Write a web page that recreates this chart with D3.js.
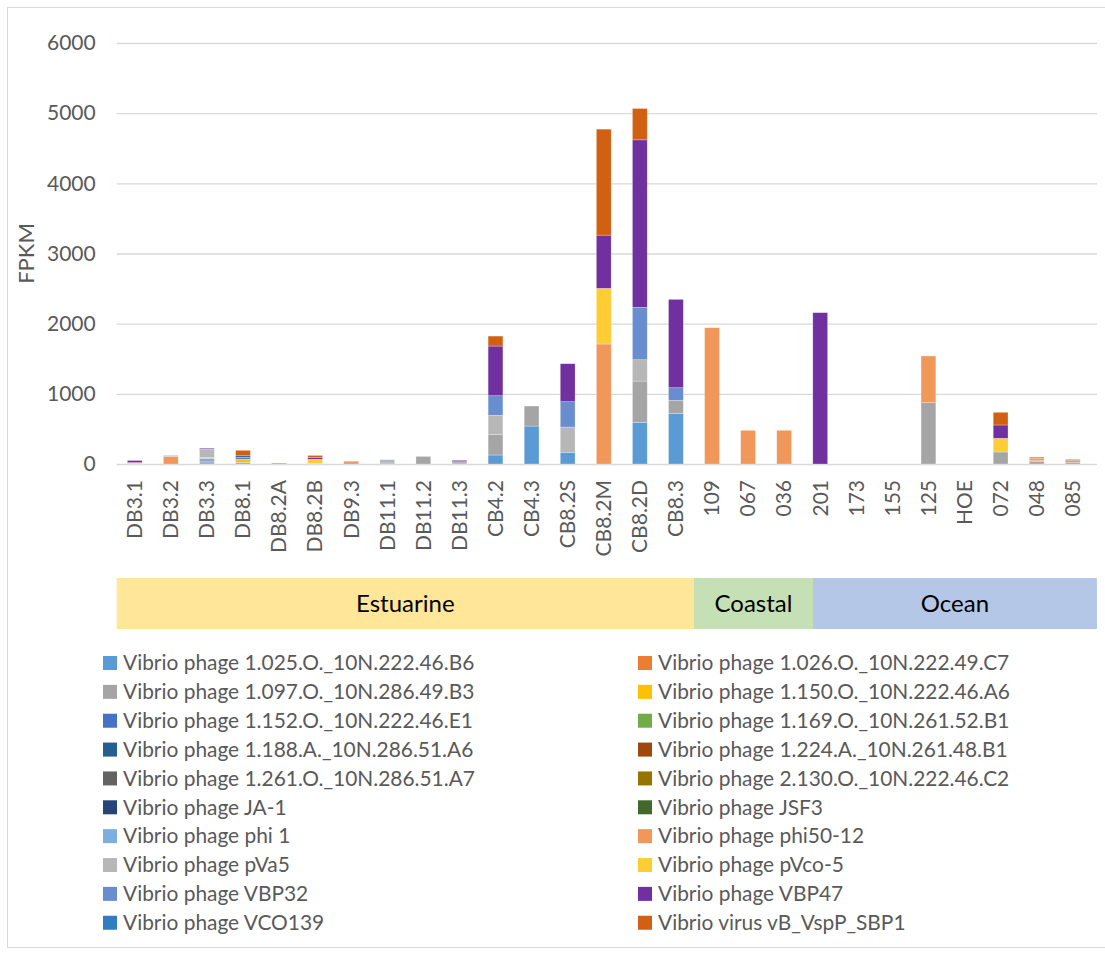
<!DOCTYPE html>
<html>
<head>
<meta charset="utf-8">
<script src="https://cdn.jsdelivr.net/npm/d3@7"></script>
<style>
  body { margin: 0; background: #fff; }
  text { font-family: Lato, "Open Sans", sans-serif; }
</style>
</head>
<body>
<svg id="chart" width="1105" height="953"></svg>
<script>
// Sampling sites along the x axis
const categories = ["DB3.1","DB3.2","DB3.3","DB8.1","DB8.2A","DB8.2B","DB9.3","DB11.1","DB11.2","DB11.3",
  "CB4.2","CB4.3","CB8.2S","CB8.2M","CB8.2D","CB8.3","109","067","036","201","173","155","125","HOE","072","048","085"];

// Phage names (stack order, bottom to top) and their fills
const seriesNames = [
  "Vibrio phage 1.025.O._10N.222.46.B6", "Vibrio phage 1.026.O._10N.222.49.C7",
  "Vibrio phage 1.097.O._10N.286.49.B3", "Vibrio phage 1.150.O._10N.222.46.A6",
  "Vibrio phage 1.152.O._10N.222.46.E1", "Vibrio phage 1.169.O._10N.261.52.B1",
  "Vibrio phage 1.188.A._10N.286.51.A6", "Vibrio phage 1.224.A._10N.261.48.B1",
  "Vibrio phage 1.261.O._10N.286.51.A7", "Vibrio phage 2.130.O._10N.222.46.C2",
  "Vibrio phage JA-1", "Vibrio phage JSF3",
  "Vibrio phage phi 1", "Vibrio phage phi50-12",
  "Vibrio phage pVa5", "Vibrio phage pVco-5",
  "Vibrio phage VBP32", "Vibrio phage VBP47",
  "Vibrio phage VCO139", "Vibrio virus vB_VspP_SBP1"
];
const seriesColors = ["#5B9BD5","#ED7D31","#A5A5A5","#FFC000","#4472C4","#70AD47","#255E91","#9E480E",
  "#636363","#997300","#264478","#43682B","#7CAFDD","#F1975A","#B7B7B7","#FFCD33","#698ED0","#7030A0",
  "#327DC2","#D26012"];

// FPKM per site, one array per phage (same order as categories)
const v1025   = [0,0,0,0,0,0,0,0,0,0,128,541,167,0,594,722,0,0,0,0,0,0,0,0,0,0,0];
const v1026   = [0,0,0,0,0,0,0,0,0,0,0,0,0,0,0,0,0,0,0,0,0,0,0,0,0,0,0];
const v1097   = [0,0,30,24,0,0,0,0,108,0,290,285,0,0,588,185,0,0,0,0,0,0,875,0,171,35,0];
const v1150   = [0,0,0,46,0,0,0,0,0,0,0,0,0,0,0,0,0,0,0,0,0,0,0,0,0,0,0];
const v1152   = [0,0,0,25,0,0,0,0,0,0,0,0,0,0,0,0,0,0,0,0,0,0,0,0,0,0,0];
const v1169   = [0,0,0,0,0,0,0,0,0,0,0,0,0,0,0,0,0,0,0,0,0,0,0,0,0,0,0];
const v1188   = [0,0,0,22,0,0,0,0,0,0,0,0,0,0,0,0,0,0,0,0,0,0,0,0,0,0,0];
const v1224   = [0,0,0,0,0,0,0,0,0,0,0,0,0,0,0,0,0,0,0,0,0,0,0,0,0,0,0];
const v1261   = [0,0,0,0,0,0,0,0,0,0,0,0,0,0,0,0,0,0,0,0,0,0,0,0,0,0,0];
const v2130   = [0,0,0,0,0,0,0,0,0,0,0,0,0,0,0,0,0,0,0,0,0,0,0,0,0,0,0];
const vJA1    = [0,0,0,0,0,0,0,0,0,0,0,0,0,0,0,0,0,0,0,0,0,0,0,0,0,0,0];
const vJSF3   = [0,0,0,0,0,0,0,0,0,0,0,0,0,0,0,0,0,0,0,0,0,0,0,0,0,0,0];
const vPhi1   = [0,0,50,0,0,10,0,14,0,0,0,0,0,0,0,0,0,0,0,0,0,0,0,0,0,12,25];
const vPhi50  = [10,106,15,0,15,0,34,0,0,0,0,0,0,1710,0,0,1942,480,480,0,0,0,664,0,0,35,25];
const vPVa5   = [0,18,115,0,0,0,0,48,0,33,275,0,360,0,304,0,0,0,0,0,0,0,0,0,0,0,0];
const vPVco5  = [10,0,0,0,0,57,0,0,0,0,0,0,0,793,0,0,0,0,0,0,0,0,0,0,195,0,0];
const vVBP32  = [0,0,0,0,0,0,0,0,0,0,280,0,361,0,746,180,0,0,0,0,0,0,0,0,0,0,0];
const vVBP47  = [30,0,14,0,0,25,0,0,0,19,708,0,541,759,2388,1259,0,0,0,2157,0,0,0,0,190,0,0];
const vVCO139 = [0,0,0,0,0,0,0,0,0,0,0,0,0,0,0,0,0,0,0,0,0,0,0,0,0,0,0];
const vSBP1   = [0,0,0,78,0,30,6,0,0,0,142,0,0,1510,447,0,0,0,0,0,0,0,0,0,181,15,15];

const seriesValues = [v1025, v1026, v1097, v1150, v1152, v1169, v1188, v1224, v1261, v2130,
  vJA1, vJSF3, vPhi1, vPhi50, vPVa5, vPVco5, vVBP32, vVBP47, vVCO139, vSBP1];

const yTicks = [0, 1000, 2000, 3000, 4000, 5000, 6000];

// Habitat bands under the axis, spans measured in category slots
const regionNames = ["Estuarine", "Coastal", "Ocean"];
const regionStart = [0, 16, 19.3];
const regionEnd = [16, 19.3, 27.17];
const regionColors = ["#FFE699", "#C5E0B4", "#B4C7E7"];

const svg = d3.select("#chart");
const plotLeft = 116.7, plotRight = 1090.8, gridRight = 1097, plotTop = 43, plotBottom = 464;

// outer chart frame
svg.append("rect").attr("x", 7.5).attr("y", 7.5).attr("width", 1110).attr("height", 940)
  .attr("fill", "none").attr("stroke", "#D9D9D9").attr("stroke-width", 1);

const x = d3.scaleBand().domain(categories).range([plotLeft, plotRight])
  .paddingInner(0.59).paddingOuter(0.295);
const y = d3.scaleLinear().domain([0, 6000]).range([plotBottom, plotTop]);

// gridlines + y labels
const yAxis = d3.axisLeft(y).tickValues(yTicks).tickSize(-(gridRight - plotLeft)).tickPadding(21)
  .tickFormat(d3.format("d"));
const gy = svg.append("g").attr("transform", `translate(${plotLeft},0)`).call(yAxis);
gy.select(".domain").remove();
gy.selectAll(".tick line").attr("stroke", "#D9D9D9").attr("stroke-width", 1.3);
gy.selectAll(".tick text").attr("fill", "#595959").attr("font-size", 21);

svg.append("text").attr("transform", `translate(34,${(plotTop + plotBottom) / 2}) rotate(-90)`)
  .attr("text-anchor", "middle").attr("fill", "#595959").attr("font-size", 22).text("FPKM");

// stacked bars
const rows = categories.map((c, i) => {
  const r = { cat: c };
  seriesNames.forEach((s, k) => { r[s] = seriesValues[k][i]; });
  return r;
});
const stack = d3.stack().keys(seriesNames)(rows);
svg.append("g").selectAll("g").data(stack).join("g")
  .attr("fill", (d, k) => seriesColors[k])
  .selectAll("rect").data(d => d.filter(p => p[1] - p[0] > 0)).join("rect")
  .attr("x", d => x(d.data.cat))
  .attr("width", x.bandwidth())
  .attr("y", d => y(d[1]))
  .attr("height", d => y(d[0]) - y(d[1]))
  .attr("stroke", "#fff").attr("stroke-opacity", 0.45).attr("stroke-width", 0.6);

// category axis
const xAxis = d3.axisBottom(x).tickSize(0).tickPadding(0);
const gx = svg.append("g").attr("transform", `translate(0,${plotBottom})`).call(xAxis);
gx.select(".domain").remove();
gx.selectAll(".tick text")
  .attr("fill", "#595959").attr("font-size", 21)
  .attr("text-anchor", "end")
  .attr("dy", "0.35em")
  .attr("transform", "translate(0,16) rotate(-90)")
  .attr("x", 0).attr("y", 0);

// habitat bands
const step = x.step();
const bandTop = 578, bandH = 51;
regionNames.forEach((name, i) => {
  const x0 = plotLeft + regionStart[i] * step, x1 = plotLeft + regionEnd[i] * step;
  svg.append("rect").attr("x", x0).attr("y", bandTop).attr("width", x1 - x0).attr("height", bandH)
    .attr("fill", regionColors[i]);
  svg.append("text").attr("x", (x0 + x1) / 2).attr("y", bandTop + bandH / 2)
    .attr("dy", "0.35em").attr("text-anchor", "middle").attr("font-size", 24).attr("fill", "#000")
    .text(name);
});

// legend, two columns filled row by row
const legendX = [103, 638], legendY0 = 663, legendDy = 28.86;
const lg = svg.append("g").selectAll("g").data(seriesNames).join("g")
  .attr("transform", (d, i) => `translate(${legendX[i % 2]},${legendY0 + Math.floor(i / 2) * legendDy})`);
lg.append("rect").attr("x", 0).attr("y", -7).attr("width", 14).attr("height", 14)
  .attr("fill", (d, i) => seriesColors[i]);
lg.append("text").attr("x", 20).attr("dy", "0.35em").attr("font-size", 20.9).attr("fill", "#595959")
  .text(d => d);
</script>
</body>
</html>
